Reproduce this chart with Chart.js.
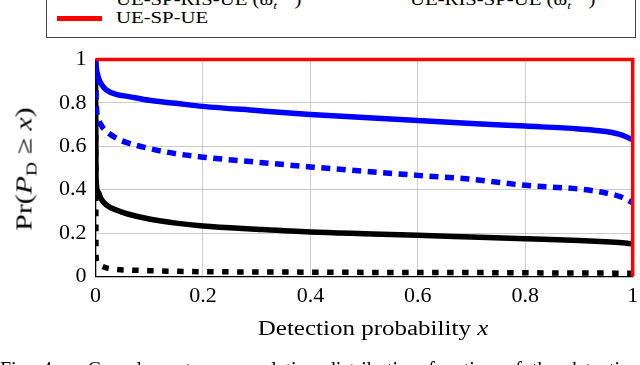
<!DOCTYPE html>
<html lang="en">
<head>
<meta charset="UTF-8" />
<title>CCDF of detection probability</title>
<script src="https://cdn.jsdelivr.net/npm/chart.js"></script>
<style>
  body { margin: 0; background: #fff; }
  #wrap {
    position: relative;
    width: 640px;
    height: 365px;
    overflow: hidden;
    font-family: "Liberation Serif", serif;
    color: #000;
  }
  #chart { position: absolute; left: 0; top: 0; }
  .txt {
    position: absolute;
    white-space: nowrap;
    line-height: 1;
    transform-origin: 0 0;
  }
  .txt sub, .txt sup { line-height: 0; vertical-align: baseline; position: relative; }
  #legend {
    position: absolute;
    left: 46px;
    top: -30px;
    width: 588px;
    height: 66px;
    border: 1px solid #444;
    background: #fff;
  }
  .leg { font-size: 16.6px; transform: scaleX(1.25); }
  .sample { position: absolute; height: 5px; background: #ff0000; }
  #ytitle {
    left: 24px;
    top: 169px;
    font-size: 23px;
    transform-origin: 50% 50%;
    transform: translate(-50%, -50%) rotate(-90deg) scaleX(1.3);
  }
  #xtitle {
    left: 373px;
    top: 318px;
    font-size: 20px;
    transform-origin: 50% 50%;
    transform: translateX(-50%) scaleX(1.25);
  }
  #caption {
    left: 0;
    top: 359px;
    width: 640px;
    font-size: 20px;
    text-align: justify;
    text-align-last: justify;
  }
</style>
</head>
<body>
<div id="wrap">
  <canvas id="chart" width="640" height="365"></canvas>

  <div id="legend">
    <div class="txt leg" style="left:69px; top:21px;">UE-SP-RIS-UE (ϖ<sub style="font-size:11px; top:0.35em"><i>t</i></sub><sup style="font-size:11px; top:-1.4em">opt</sup>)</div>
    <div class="txt leg" style="left:363px; top:21px;">UE-RIS-SP-UE (ϖ<sub style="font-size:11px; top:0.35em"><i>t</i></sub><sup style="font-size:11px; top:-1.4em">opt</sup>)</div>
    <div class="sample" style="left:10px; top:45px; width:45px;"></div>
    <div class="txt leg" style="left:69px; top:38.5px;">UE-SP-UE</div>
  </div>

  <div id="ytitle" class="txt">Pr(<i>P</i><sub style="font-size:15px; top:0.3em">D</sub> ≥ <i>x</i>)</div>
  <div id="xtitle" class="txt">Detection probability <i>x</i></div>
  <div id="caption" class="txt">Fig. 4. &nbsp; Complementary cumulative distribution function of the detection</div>
</div>

<script>
  // x grid shared by the four simulated curves
  const xs = [0, 0.001, 0.005, 0.01, 0.02, 0.04, 0.06, 0.1, 0.15, 0.2,
              0.3, 0.4, 0.5, 0.6, 0.7, 0.8, 0.9, 0.95, 0.98, 1];

  const blueSolid  = [1, 0.97, 0.92, 0.89, 0.86, 0.838, 0.83, 0.812, 0.798, 0.784,
                      0.765, 0.747, 0.733, 0.719, 0.705, 0.693, 0.68, 0.668, 0.652, 0.63];
  const blueDashed = [1, 0.82, 0.73, 0.70, 0.67, 0.636, 0.616, 0.59, 0.566, 0.55,
                      0.527, 0.505, 0.485, 0.466, 0.448, 0.42, 0.403, 0.385, 0.365, 0.34];
  const blackSolid = [1, 0.45, 0.39, 0.36, 0.33, 0.305, 0.288, 0.265, 0.246, 0.233,
                      0.218, 0.205, 0.197, 0.19, 0.182, 0.174, 0.166, 0.16, 0.155, 0.15];
  const blackDashed = [1, 0.09, 0.06, 0.05, 0.04, 0.032, 0.03, 0.027, 0.024, 0.022,
                       0.021, 0.02, 0.019, 0.018, 0.018, 0.017, 0.016, 0.016, 0.015, 0.015];

  // UE-SP-UE: detection always succeeds
  const redX = [0, 1, 1];
  const redY = [1, 1, 0];

  const xTicks = [0, 0.2, 0.4, 0.6, 0.8, 1];
  const yTicks = [0, 0.2, 0.4, 0.6, 0.8, 1];

  function pts(x, y) {
    return x.map((v, i) => ({ x: v, y: y[i] }));
  }

  const tickFont = { family: '"Liberation Serif", serif', size: 22 };
  const label = v => String(Number(v.toFixed(1)));

  new Chart(document.getElementById('chart'), {
    type: 'scatter',
    data: {
      datasets: [
        { label: 'UE-SP-UE', data: pts(redX, redY), borderColor: '#ff0000',
          borderWidth: 3.5, order: 0, clip: 5 },
        { label: 'blue solid', data: pts(xs, blueSolid), borderColor: '#0000ff',
          borderWidth: 5.5, order: 1, cubicInterpolationMode: 'monotone' },
        { label: 'blue dashed', data: pts(xs, blueDashed), borderColor: '#0000ff',
          borderWidth: 5.5, borderDash: [9, 6.5], order: 1, cubicInterpolationMode: 'monotone' },
        { label: 'black solid', data: pts(xs, blackSolid), borderColor: '#000000',
          borderWidth: 5.5, order: 2, cubicInterpolationMode: 'monotone' },
        { label: 'black dashed', data: pts(xs, blackDashed), borderColor: '#000000',
          borderWidth: 5.5, borderDash: [6.5, 8.5], order: 2, cubicInterpolationMode: 'monotone' }
      ].map(d => Object.assign({ showLine: true, pointRadius: 0, fill: false }, d))
    },
    options: {
      responsive: false,
      animation: false,
      devicePixelRatio: 1,
      layout: { padding: { top: 59.5, right: 7.3, left: 0, bottom: 0 } },
      plugins: { legend: { display: false }, tooltip: { enabled: false } },
      scales: {
        x: {
          type: 'linear', min: 0, max: 1,
          afterBuildTicks: s => { s.ticks = xTicks.map(v => ({ value: v })); },
          ticks: { font: tickFont, color: '#000', padding: 7, callback: label, maxRotation: 0 },
          grid: { color: '#cccccc', drawTicks: false },
          border: { color: '#000', width: 1.3 },
          afterFit: s => { s.height = 88.5; s.paddingLeft = 0; s.paddingRight = 0; }
        },
        y: {
          type: 'linear', min: 0, max: 1,
          afterBuildTicks: s => { s.ticks = yTicks.map(v => ({ value: v })); },
          ticks: { font: tickFont, color: '#000', padding: 9, callback: label },
          grid: { color: '#cccccc', drawTicks: false },
          border: { color: '#000', width: 1.3 },
          afterFit: s => { s.width = 95.5; s.paddingTop = 0; s.paddingBottom = 0; }
        }
      }
    }
  });
</script>
</body>
</html>
